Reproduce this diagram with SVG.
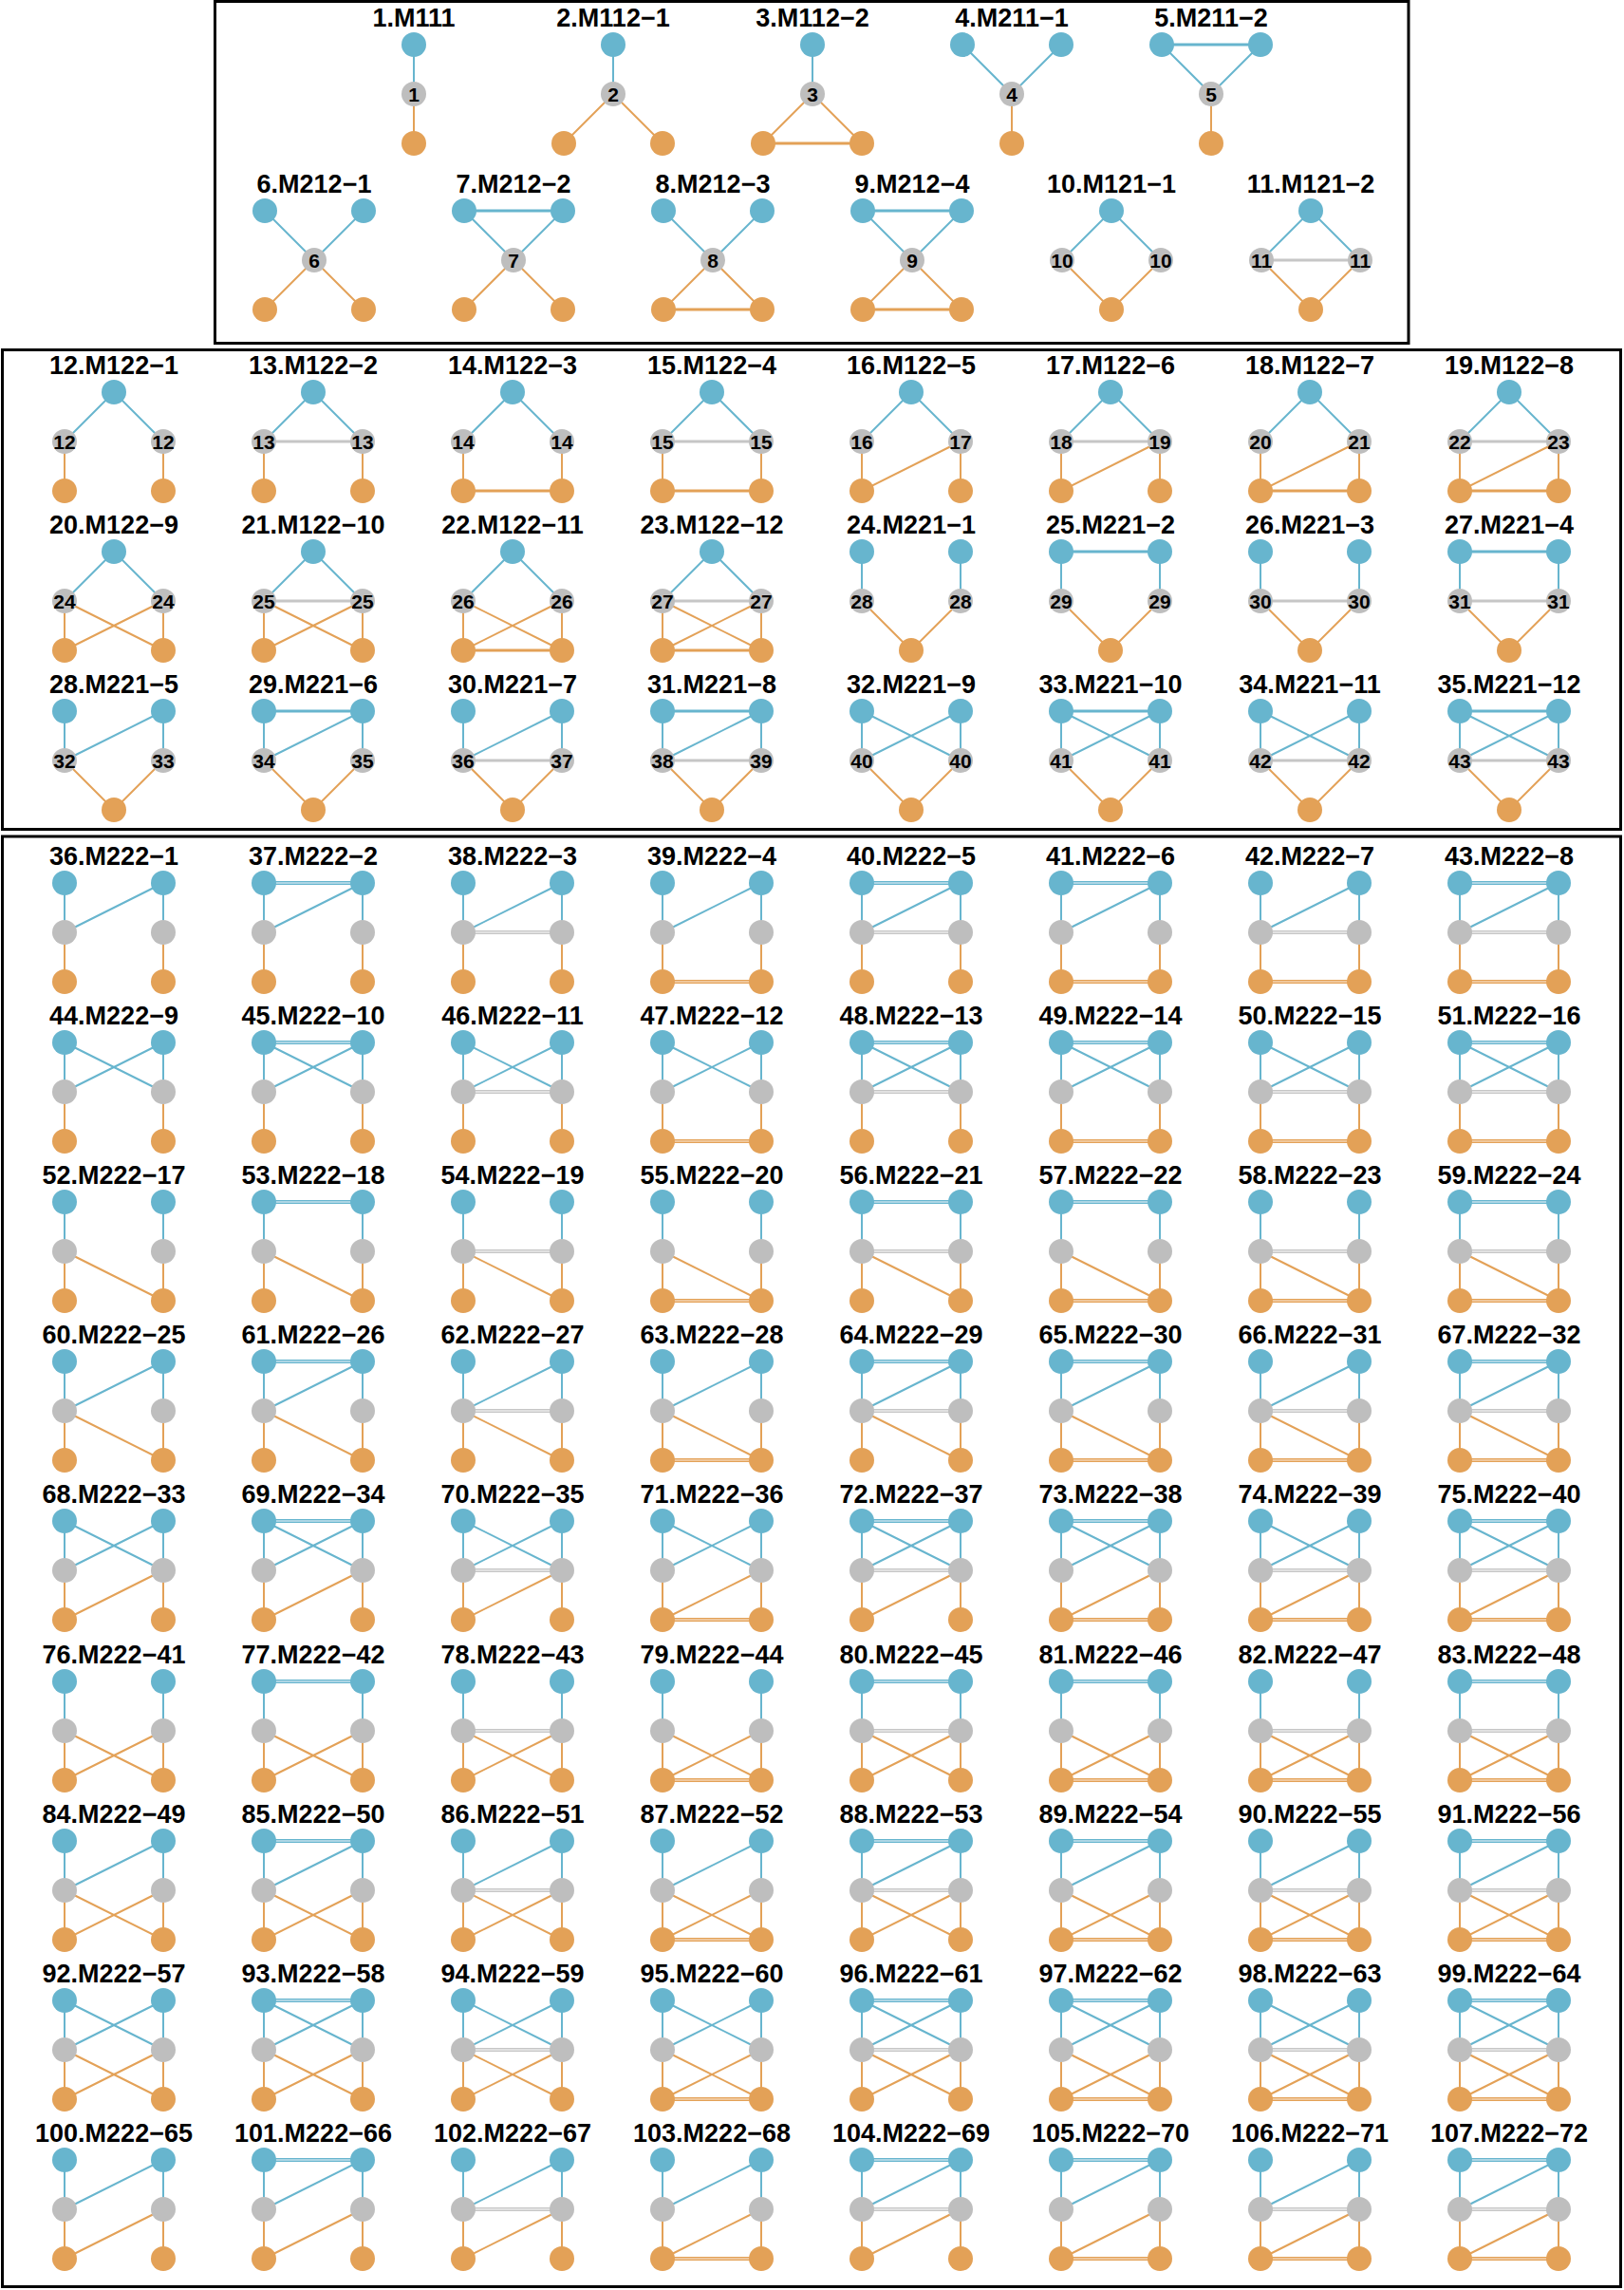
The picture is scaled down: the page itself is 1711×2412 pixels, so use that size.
<svg xmlns="http://www.w3.org/2000/svg" width="1711" height="2412" viewBox="0 0 1711 2412">
<style>
.t{font-family:"Liberation Sans",Arial,sans-serif;font-weight:bold;font-size:27px;text-anchor:middle;fill:#000}
.l{font-family:"Liberation Sans",Arial,sans-serif;font-weight:bold;font-size:21px;text-anchor:middle;fill:#000}
.nb{fill:#67B5CE}.ng{fill:#BEBEBE}.no{fill:#E3A157}
.eb{stroke:#67B5CE;stroke-width:2}.eg{stroke:#C6C6C6;stroke-width:3}.eo{stroke:#E3A157;stroke-width:2}
.eh{stroke-width:3}
.w{stroke-width:4}
.ib{stroke:#C4E2EC;stroke-width:1.3}.ig{stroke:#EAEAEA;stroke-width:1.3}.io{stroke:#F4D5B2;stroke-width:1.3}
.box{fill:none;stroke:#000;stroke-width:3}
</style>
<defs>
<g id="n222"><circle class="nb" cx="-52" cy="0" r="13"/><circle class="nb" cx="52" cy="0" r="13"/><circle class="ng" cx="-52" cy="52" r="13"/><circle class="ng" cx="52" cy="52" r="13"/><circle class="no" cx="-52" cy="104" r="13"/><circle class="no" cx="52" cy="104" r="13"/></g>
<g id="n122"><circle class="nb" cx="0" cy="0" r="13"/><circle class="ng" cx="-52" cy="52" r="13"/><circle class="ng" cx="52" cy="52" r="13"/><circle class="no" cx="-52" cy="104" r="13"/><circle class="no" cx="52" cy="104" r="13"/></g>
<g id="n221"><circle class="nb" cx="-52" cy="0" r="13"/><circle class="nb" cx="52" cy="0" r="13"/><circle class="ng" cx="-52" cy="52" r="13"/><circle class="ng" cx="52" cy="52" r="13"/><circle class="no" cx="0" cy="104" r="13"/></g>
<g id="n212"><circle class="nb" cx="-52" cy="0" r="13"/><circle class="nb" cx="52" cy="0" r="13"/><circle class="ng" cx="0" cy="52" r="13"/><circle class="no" cx="-52" cy="104" r="13"/><circle class="no" cx="52" cy="104" r="13"/></g>
<g id="b222"><line class="eb" x1="-52" y1="0" x2="-52" y2="52"/><line class="eb" x1="52" y1="0" x2="52" y2="52"/><line class="eo" x1="-52" y1="52" x2="-52" y2="104"/><line class="eo" x1="52" y1="52" x2="52" y2="104"/></g>
<g id="b122"><line class="eb" x1="0" y1="0" x2="-52" y2="52"/><line class="eb" x1="0" y1="0" x2="52" y2="52"/><line class="eo" x1="-52" y1="52" x2="-52" y2="104"/><line class="eo" x1="52" y1="52" x2="52" y2="104"/></g>
<g id="b221"><line class="eb" x1="-52" y1="0" x2="-52" y2="52"/><line class="eb" x1="52" y1="0" x2="52" y2="52"/><line class="eo" x1="-52" y1="52" x2="0" y2="104"/><line class="eo" x1="52" y1="52" x2="0" y2="104"/></g>
<g id="b212"><line class="eb" x1="-52" y1="0" x2="0" y2="52"/><line class="eb" x1="52" y1="0" x2="0" y2="52"/><line class="eo" x1="0" y1="52" x2="-52" y2="104"/><line class="eo" x1="0" y1="52" x2="52" y2="104"/></g>
<g id="b121"><line class="eb" x1="0" y1="0" x2="-52" y2="52"/><line class="eb" x1="0" y1="0" x2="52" y2="52"/><line class="eo" x1="-52" y1="52" x2="0" y2="104"/><line class="eo" x1="52" y1="52" x2="0" y2="104"/></g>
<line id="ea" class="eb eh" x1="-52" y1="0" x2="52" y2="0"/>
<line id="ed1" class="eb" x1="52" y1="0" x2="-52" y2="52"/>
<line id="ed2" class="eb" x1="-52" y1="0" x2="52" y2="52"/>
<line id="eg" class="eg" x1="-52" y1="52" x2="52" y2="52"/>
<line id="eo1" class="eo" x1="-52" y1="52" x2="52" y2="104"/>
<line id="eo2" class="eo" x1="52" y1="52" x2="-52" y2="104"/>
<line id="eb" class="eo eh" x1="-52" y1="104" x2="52" y2="104"/>
<g id="A"><line class="eb w" x1="-52" y1="0" x2="52" y2="0"/><line class="ib" x1="-40" y1="0" x2="40" y2="0"/></g>
<g id="G"><line class="eg w" x1="-52" y1="52" x2="52" y2="52"/><line class="ig" x1="-40" y1="52" x2="40" y2="52"/></g>
<g id="B"><line class="eo w" x1="-52" y1="104" x2="52" y2="104"/><line class="io" x1="-40" y1="104" x2="40" y2="104"/></g>
</defs>
<rect width="1711" height="2412" fill="#fff"/>
<g id="frames">
<rect class="box" x="226.5" y="1.5" width="1257.5" height="360"/>
<rect class="box" x="2.5" y="368.5" width="1705" height="505"/>
<rect class="box" x="2.5" y="881" width="1705" height="1527.5"/>
</g>
<g id="connectors">
<g transform="translate(436,47)"><line class="eb" x1="0" y1="0" x2="0" y2="52"/><line class="eo" x1="0" y1="52" x2="0" y2="104"/></g>
<g transform="translate(646,47)"><line class="eb" x1="0" y1="0" x2="0" y2="52"/><line class="eo" x1="0" y1="52" x2="-52" y2="104"/><line class="eo" x1="0" y1="52" x2="52" y2="104"/></g>
<g transform="translate(856,47)"><line class="eb" x1="0" y1="0" x2="0" y2="52"/><line class="eo" x1="0" y1="52" x2="-52" y2="104"/><line class="eo" x1="0" y1="52" x2="52" y2="104"/><use href="#eb"/></g>
<g transform="translate(1066,47)"><line class="eb" x1="-52" y1="0" x2="0" y2="52"/><line class="eb" x1="52" y1="0" x2="0" y2="52"/><line class="eo" x1="0" y1="52" x2="0" y2="104"/></g>
<g transform="translate(1276,47)"><line class="eb" x1="-52" y1="0" x2="0" y2="52"/><line class="eb" x1="52" y1="0" x2="0" y2="52"/><line class="eo" x1="0" y1="52" x2="0" y2="104"/><use href="#ea"/></g>
<g transform="translate(331,222)"><use href="#b212"/></g>
<g transform="translate(541,222)"><use href="#b212"/><use href="#ea"/></g>
<g transform="translate(751,222)"><use href="#b212"/><use href="#eb"/></g>
<g transform="translate(961,222)"><use href="#b212"/><use href="#ea"/><use href="#eb"/></g>
<g transform="translate(1171,222)"><use href="#b121"/></g>
<g transform="translate(1381,222)"><use href="#b121"/><use href="#eg"/></g>

<g transform="translate(120,413)"><use href="#b122"/></g>
<g transform="translate(330,413)"><use href="#b122"/><use href="#eg"/></g>
<g transform="translate(540,413)"><use href="#b122"/><use href="#eb"/></g>
<g transform="translate(750,413)"><use href="#b122"/><use href="#eg"/><use href="#eb"/></g>
<g transform="translate(960,413)"><use href="#b122"/><use href="#eo2"/></g>
<g transform="translate(1170,413)"><use href="#b122"/><use href="#eg"/><use href="#eo2"/></g>
<g transform="translate(1380,413)"><use href="#b122"/><use href="#eo2"/><use href="#eb"/></g>
<g transform="translate(1590,413)"><use href="#b122"/><use href="#eg"/><use href="#eo2"/><use href="#eb"/></g>
<g transform="translate(120,581)"><use href="#b122"/><use href="#eo1"/><use href="#eo2"/></g>
<g transform="translate(330,581)"><use href="#b122"/><use href="#eg"/><use href="#eo1"/><use href="#eo2"/></g>
<g transform="translate(540,581)"><use href="#b122"/><use href="#eo1"/><use href="#eo2"/><use href="#eb"/></g>
<g transform="translate(750,581)"><use href="#b122"/><use href="#eg"/><use href="#eo1"/><use href="#eo2"/><use href="#eb"/></g>
<g transform="translate(960,581)"><use href="#b221"/></g>
<g transform="translate(1170,581)"><use href="#b221"/><use href="#ea"/></g>
<g transform="translate(1380,581)"><use href="#b221"/><use href="#eg"/></g>
<g transform="translate(1590,581)"><use href="#b221"/><use href="#ea"/><use href="#eg"/></g>
<g transform="translate(120,749)"><use href="#b221"/><use href="#ed1"/></g>
<g transform="translate(330,749)"><use href="#b221"/><use href="#ea"/><use href="#ed1"/></g>
<g transform="translate(540,749)"><use href="#b221"/><use href="#ed1"/><use href="#eg"/></g>
<g transform="translate(750,749)"><use href="#b221"/><use href="#ea"/><use href="#ed1"/><use href="#eg"/></g>
<g transform="translate(960,749)"><use href="#b221"/><use href="#ed1"/><use href="#ed2"/></g>
<g transform="translate(1170,749)"><use href="#b221"/><use href="#ea"/><use href="#ed1"/><use href="#ed2"/></g>
<g transform="translate(1380,749)"><use href="#b221"/><use href="#ed1"/><use href="#ed2"/><use href="#eg"/></g>
<g transform="translate(1590,749)"><use href="#b221"/><use href="#ea"/><use href="#ed1"/><use href="#ed2"/><use href="#eg"/></g>

<g transform="translate(120,930)"><use href="#b222"/><use href="#ed1"/></g>
<g transform="translate(330,930)"><use href="#b222"/><use href="#ed1"/><use href="#A"/></g>
<g transform="translate(540,930)"><use href="#b222"/><use href="#ed1"/><use href="#G"/></g>
<g transform="translate(750,930)"><use href="#b222"/><use href="#ed1"/><use href="#B"/></g>
<g transform="translate(960,930)"><use href="#b222"/><use href="#ed1"/><use href="#A"/><use href="#G"/></g>
<g transform="translate(1170,930)"><use href="#b222"/><use href="#ed1"/><use href="#A"/><use href="#B"/></g>
<g transform="translate(1380,930)"><use href="#b222"/><use href="#ed1"/><use href="#G"/><use href="#B"/></g>
<g transform="translate(1590,930)"><use href="#b222"/><use href="#ed1"/><use href="#A"/><use href="#G"/><use href="#B"/></g>

<g transform="translate(120,1098)"><use href="#b222"/><use href="#ed1"/><use href="#ed2"/></g>
<g transform="translate(330,1098)"><use href="#b222"/><use href="#ed1"/><use href="#ed2"/><use href="#A"/></g>
<g transform="translate(540,1098)"><use href="#b222"/><use href="#ed1"/><use href="#ed2"/><use href="#G"/></g>
<g transform="translate(750,1098)"><use href="#b222"/><use href="#ed1"/><use href="#ed2"/><use href="#B"/></g>
<g transform="translate(960,1098)"><use href="#b222"/><use href="#ed1"/><use href="#ed2"/><use href="#A"/><use href="#G"/></g>
<g transform="translate(1170,1098)"><use href="#b222"/><use href="#ed1"/><use href="#ed2"/><use href="#A"/><use href="#B"/></g>
<g transform="translate(1380,1098)"><use href="#b222"/><use href="#ed1"/><use href="#ed2"/><use href="#G"/><use href="#B"/></g>
<g transform="translate(1590,1098)"><use href="#b222"/><use href="#ed1"/><use href="#ed2"/><use href="#A"/><use href="#G"/><use href="#B"/></g>

<g transform="translate(120,1266)"><use href="#b222"/><use href="#eo1"/></g>
<g transform="translate(330,1266)"><use href="#b222"/><use href="#eo1"/><use href="#A"/></g>
<g transform="translate(540,1266)"><use href="#b222"/><use href="#eo1"/><use href="#G"/></g>
<g transform="translate(750,1266)"><use href="#b222"/><use href="#eo1"/><use href="#B"/></g>
<g transform="translate(960,1266)"><use href="#b222"/><use href="#eo1"/><use href="#A"/><use href="#G"/></g>
<g transform="translate(1170,1266)"><use href="#b222"/><use href="#eo1"/><use href="#A"/><use href="#B"/></g>
<g transform="translate(1380,1266)"><use href="#b222"/><use href="#eo1"/><use href="#G"/><use href="#B"/></g>
<g transform="translate(1590,1266)"><use href="#b222"/><use href="#eo1"/><use href="#A"/><use href="#G"/><use href="#B"/></g>

<g transform="translate(120,1434)"><use href="#b222"/><use href="#ed1"/><use href="#eo1"/></g>
<g transform="translate(330,1434)"><use href="#b222"/><use href="#ed1"/><use href="#eo1"/><use href="#A"/></g>
<g transform="translate(540,1434)"><use href="#b222"/><use href="#ed1"/><use href="#eo1"/><use href="#G"/></g>
<g transform="translate(750,1434)"><use href="#b222"/><use href="#ed1"/><use href="#eo1"/><use href="#B"/></g>
<g transform="translate(960,1434)"><use href="#b222"/><use href="#ed1"/><use href="#eo1"/><use href="#A"/><use href="#G"/></g>
<g transform="translate(1170,1434)"><use href="#b222"/><use href="#ed1"/><use href="#eo1"/><use href="#A"/><use href="#B"/></g>
<g transform="translate(1380,1434)"><use href="#b222"/><use href="#ed1"/><use href="#eo1"/><use href="#G"/><use href="#B"/></g>
<g transform="translate(1590,1434)"><use href="#b222"/><use href="#ed1"/><use href="#eo1"/><use href="#A"/><use href="#G"/><use href="#B"/></g>

<g transform="translate(120,1602)"><use href="#b222"/><use href="#ed1"/><use href="#ed2"/><use href="#eo2"/></g>
<g transform="translate(330,1602)"><use href="#b222"/><use href="#ed1"/><use href="#ed2"/><use href="#eo2"/><use href="#A"/></g>
<g transform="translate(540,1602)"><use href="#b222"/><use href="#ed1"/><use href="#ed2"/><use href="#eo2"/><use href="#G"/></g>
<g transform="translate(750,1602)"><use href="#b222"/><use href="#ed1"/><use href="#ed2"/><use href="#eo2"/><use href="#B"/></g>
<g transform="translate(960,1602)"><use href="#b222"/><use href="#ed1"/><use href="#ed2"/><use href="#eo2"/><use href="#A"/><use href="#G"/></g>
<g transform="translate(1170,1602)"><use href="#b222"/><use href="#ed1"/><use href="#ed2"/><use href="#eo2"/><use href="#A"/><use href="#B"/></g>
<g transform="translate(1380,1602)"><use href="#b222"/><use href="#ed1"/><use href="#ed2"/><use href="#eo2"/><use href="#G"/><use href="#B"/></g>
<g transform="translate(1590,1602)"><use href="#b222"/><use href="#ed1"/><use href="#ed2"/><use href="#eo2"/><use href="#A"/><use href="#G"/><use href="#B"/></g>

<g transform="translate(120,1771)"><use href="#b222"/><use href="#eo1"/><use href="#eo2"/></g>
<g transform="translate(330,1771)"><use href="#b222"/><use href="#eo1"/><use href="#eo2"/><use href="#A"/></g>
<g transform="translate(540,1771)"><use href="#b222"/><use href="#eo1"/><use href="#eo2"/><use href="#G"/></g>
<g transform="translate(750,1771)"><use href="#b222"/><use href="#eo1"/><use href="#eo2"/><use href="#B"/></g>
<g transform="translate(960,1771)"><use href="#b222"/><use href="#eo1"/><use href="#eo2"/><use href="#A"/><use href="#G"/></g>
<g transform="translate(1170,1771)"><use href="#b222"/><use href="#eo1"/><use href="#eo2"/><use href="#A"/><use href="#B"/></g>
<g transform="translate(1380,1771)"><use href="#b222"/><use href="#eo1"/><use href="#eo2"/><use href="#G"/><use href="#B"/></g>
<g transform="translate(1590,1771)"><use href="#b222"/><use href="#eo1"/><use href="#eo2"/><use href="#A"/><use href="#G"/><use href="#B"/></g>

<g transform="translate(120,1939)"><use href="#b222"/><use href="#ed1"/><use href="#eo1"/><use href="#eo2"/></g>
<g transform="translate(330,1939)"><use href="#b222"/><use href="#ed1"/><use href="#eo1"/><use href="#eo2"/><use href="#A"/></g>
<g transform="translate(540,1939)"><use href="#b222"/><use href="#ed1"/><use href="#eo1"/><use href="#eo2"/><use href="#G"/></g>
<g transform="translate(750,1939)"><use href="#b222"/><use href="#ed1"/><use href="#eo1"/><use href="#eo2"/><use href="#B"/></g>
<g transform="translate(960,1939)"><use href="#b222"/><use href="#ed1"/><use href="#eo1"/><use href="#eo2"/><use href="#A"/><use href="#G"/></g>
<g transform="translate(1170,1939)"><use href="#b222"/><use href="#ed1"/><use href="#eo1"/><use href="#eo2"/><use href="#A"/><use href="#B"/></g>
<g transform="translate(1380,1939)"><use href="#b222"/><use href="#ed1"/><use href="#eo1"/><use href="#eo2"/><use href="#G"/><use href="#B"/></g>
<g transform="translate(1590,1939)"><use href="#b222"/><use href="#ed1"/><use href="#eo1"/><use href="#eo2"/><use href="#A"/><use href="#G"/><use href="#B"/></g>

<g transform="translate(120,2107)"><use href="#b222"/><use href="#ed1"/><use href="#ed2"/><use href="#eo1"/><use href="#eo2"/></g>
<g transform="translate(330,2107)"><use href="#b222"/><use href="#ed1"/><use href="#ed2"/><use href="#eo1"/><use href="#eo2"/><use href="#A"/></g>
<g transform="translate(540,2107)"><use href="#b222"/><use href="#ed1"/><use href="#ed2"/><use href="#eo1"/><use href="#eo2"/><use href="#G"/></g>
<g transform="translate(750,2107)"><use href="#b222"/><use href="#ed1"/><use href="#ed2"/><use href="#eo1"/><use href="#eo2"/><use href="#B"/></g>
<g transform="translate(960,2107)"><use href="#b222"/><use href="#ed1"/><use href="#ed2"/><use href="#eo1"/><use href="#eo2"/><use href="#A"/><use href="#G"/></g>
<g transform="translate(1170,2107)"><use href="#b222"/><use href="#ed1"/><use href="#ed2"/><use href="#eo1"/><use href="#eo2"/><use href="#A"/><use href="#B"/></g>
<g transform="translate(1380,2107)"><use href="#b222"/><use href="#ed1"/><use href="#ed2"/><use href="#eo1"/><use href="#eo2"/><use href="#G"/><use href="#B"/></g>
<g transform="translate(1590,2107)"><use href="#b222"/><use href="#ed1"/><use href="#ed2"/><use href="#eo1"/><use href="#eo2"/><use href="#A"/><use href="#G"/><use href="#B"/></g>

<g transform="translate(120,2275)"><use href="#b222"/><use href="#ed1"/><use href="#eo2"/></g>
<g transform="translate(330,2275)"><use href="#b222"/><use href="#ed1"/><use href="#eo2"/><use href="#A"/></g>
<g transform="translate(540,2275)"><use href="#b222"/><use href="#ed1"/><use href="#eo2"/><use href="#G"/></g>
<g transform="translate(750,2275)"><use href="#b222"/><use href="#ed1"/><use href="#eo2"/><use href="#B"/></g>
<g transform="translate(960,2275)"><use href="#b222"/><use href="#ed1"/><use href="#eo2"/><use href="#A"/><use href="#G"/></g>
<g transform="translate(1170,2275)"><use href="#b222"/><use href="#ed1"/><use href="#eo2"/><use href="#A"/><use href="#B"/></g>
<g transform="translate(1380,2275)"><use href="#b222"/><use href="#ed1"/><use href="#eo2"/><use href="#G"/><use href="#B"/></g>
<g transform="translate(1590,2275)"><use href="#b222"/><use href="#ed1"/><use href="#eo2"/><use href="#A"/><use href="#G"/><use href="#B"/></g>
</g>

<g id="nodes">
<g id="m1" transform="translate(436,47)"><text class="t" y="-19">1.M111</text><circle class="nb" cx="0" cy="0" r="13"/><circle class="ng" cx="0" cy="52" r="13"/><text class="l" y="59.5">1</text><circle class="no" cx="0" cy="104" r="13"/></g>
<g id="m2" transform="translate(646,47)"><text class="t" y="-19">2.M112−1</text><circle class="nb" cx="0" cy="0" r="13"/><circle class="ng" cx="0" cy="52" r="13"/><text class="l" y="59.5">2</text><circle class="no" cx="-52" cy="104" r="13"/><circle class="no" cx="52" cy="104" r="13"/></g>
<g id="m3" transform="translate(856,47)"><text class="t" y="-19">3.M112−2</text><circle class="nb" cx="0" cy="0" r="13"/><circle class="ng" cx="0" cy="52" r="13"/><text class="l" y="59.5">3</text><circle class="no" cx="-52" cy="104" r="13"/><circle class="no" cx="52" cy="104" r="13"/></g>
<g id="m4" transform="translate(1066,47)"><text class="t" y="-19">4.M211−1</text><circle class="nb" cx="-52" cy="0" r="13"/><circle class="nb" cx="52" cy="0" r="13"/><circle class="ng" cx="0" cy="52" r="13"/><text class="l" y="59.5">4</text><circle class="no" cx="0" cy="104" r="13"/></g>
<g id="m5" transform="translate(1276,47)"><text class="t" y="-19">5.M211−2</text><circle class="nb" cx="-52" cy="0" r="13"/><circle class="nb" cx="52" cy="0" r="13"/><circle class="ng" cx="0" cy="52" r="13"/><text class="l" y="59.5">5</text><circle class="no" cx="0" cy="104" r="13"/></g>
<g id="m6" transform="translate(331,222)"><text class="t" y="-19">6.M212−1</text><use href="#n212"/><text class="l" y="59.5">6</text></g>
<g id="m7" transform="translate(541,222)"><text class="t" y="-19">7.M212−2</text><use href="#n212"/><text class="l" y="59.5">7</text></g>
<g id="m8" transform="translate(751,222)"><text class="t" y="-19">8.M212−3</text><use href="#n212"/><text class="l" y="59.5">8</text></g>
<g id="m9" transform="translate(961,222)"><text class="t" y="-19">9.M212−4</text><use href="#n212"/><text class="l" y="59.5">9</text></g>
<g id="m10" transform="translate(1171,222)"><text class="t" y="-19">10.M121−1</text><circle class="nb" cx="0" cy="0" r="13"/><circle class="ng" cx="-52" cy="52" r="13"/><circle class="ng" cx="52" cy="52" r="13"/><circle class="no" cx="0" cy="104" r="13"/><text class="l" x="-52" y="59.5">10</text><text class="l" x="52" y="59.5">10</text></g>
<g id="m11" transform="translate(1381,222)"><text class="t" y="-19">11.M121−2</text><circle class="nb" cx="0" cy="0" r="13"/><circle class="ng" cx="-52" cy="52" r="13"/><circle class="ng" cx="52" cy="52" r="13"/><circle class="no" cx="0" cy="104" r="13"/><text class="l" x="-52" y="59.5">11</text><text class="l" x="52" y="59.5">11</text></g>

<g id="m12" transform="translate(120,413)"><text class="t" y="-19">12.M122−1</text><use href="#n122"/><text class="l" x="-52" y="59.5">12</text><text class="l" x="52" y="59.5">12</text></g>
<g id="m13" transform="translate(330,413)"><text class="t" y="-19">13.M122−2</text><use href="#n122"/><text class="l" x="-52" y="59.5">13</text><text class="l" x="52" y="59.5">13</text></g>
<g id="m14" transform="translate(540,413)"><text class="t" y="-19">14.M122−3</text><use href="#n122"/><text class="l" x="-52" y="59.5">14</text><text class="l" x="52" y="59.5">14</text></g>
<g id="m15" transform="translate(750,413)"><text class="t" y="-19">15.M122−4</text><use href="#n122"/><text class="l" x="-52" y="59.5">15</text><text class="l" x="52" y="59.5">15</text></g>
<g id="m16" transform="translate(960,413)"><text class="t" y="-19">16.M122−5</text><use href="#n122"/><text class="l" x="-52" y="59.5">16</text><text class="l" x="52" y="59.5">17</text></g>
<g id="m17" transform="translate(1170,413)"><text class="t" y="-19">17.M122−6</text><use href="#n122"/><text class="l" x="-52" y="59.5">18</text><text class="l" x="52" y="59.5">19</text></g>
<g id="m18" transform="translate(1380,413)"><text class="t" y="-19">18.M122−7</text><use href="#n122"/><text class="l" x="-52" y="59.5">20</text><text class="l" x="52" y="59.5">21</text></g>
<g id="m19" transform="translate(1590,413)"><text class="t" y="-19">19.M122−8</text><use href="#n122"/><text class="l" x="-52" y="59.5">22</text><text class="l" x="52" y="59.5">23</text></g>
<g id="m20" transform="translate(120,581)"><text class="t" y="-19">20.M122−9</text><use href="#n122"/><text class="l" x="-52" y="59.5">24</text><text class="l" x="52" y="59.5">24</text></g>
<g id="m21" transform="translate(330,581)"><text class="t" y="-19">21.M122−10</text><use href="#n122"/><text class="l" x="-52" y="59.5">25</text><text class="l" x="52" y="59.5">25</text></g>
<g id="m22" transform="translate(540,581)"><text class="t" y="-19">22.M122−11</text><use href="#n122"/><text class="l" x="-52" y="59.5">26</text><text class="l" x="52" y="59.5">26</text></g>
<g id="m23" transform="translate(750,581)"><text class="t" y="-19">23.M122−12</text><use href="#n122"/><text class="l" x="-52" y="59.5">27</text><text class="l" x="52" y="59.5">27</text></g>
<g id="m24" transform="translate(960,581)"><text class="t" y="-19">24.M221−1</text><use href="#n221"/><text class="l" x="-52" y="59.5">28</text><text class="l" x="52" y="59.5">28</text></g>
<g id="m25" transform="translate(1170,581)"><text class="t" y="-19">25.M221−2</text><use href="#n221"/><text class="l" x="-52" y="59.5">29</text><text class="l" x="52" y="59.5">29</text></g>
<g id="m26" transform="translate(1380,581)"><text class="t" y="-19">26.M221−3</text><use href="#n221"/><text class="l" x="-52" y="59.5">30</text><text class="l" x="52" y="59.5">30</text></g>
<g id="m27" transform="translate(1590,581)"><text class="t" y="-19">27.M221−4</text><use href="#n221"/><text class="l" x="-52" y="59.5">31</text><text class="l" x="52" y="59.5">31</text></g>
<g id="m28" transform="translate(120,749)"><text class="t" y="-19">28.M221−5</text><use href="#n221"/><text class="l" x="-52" y="59.5">32</text><text class="l" x="52" y="59.5">33</text></g>
<g id="m29" transform="translate(330,749)"><text class="t" y="-19">29.M221−6</text><use href="#n221"/><text class="l" x="-52" y="59.5">34</text><text class="l" x="52" y="59.5">35</text></g>
<g id="m30" transform="translate(540,749)"><text class="t" y="-19">30.M221−7</text><use href="#n221"/><text class="l" x="-52" y="59.5">36</text><text class="l" x="52" y="59.5">37</text></g>
<g id="m31" transform="translate(750,749)"><text class="t" y="-19">31.M221−8</text><use href="#n221"/><text class="l" x="-52" y="59.5">38</text><text class="l" x="52" y="59.5">39</text></g>
<g id="m32" transform="translate(960,749)"><text class="t" y="-19">32.M221−9</text><use href="#n221"/><text class="l" x="-52" y="59.5">40</text><text class="l" x="52" y="59.5">40</text></g>
<g id="m33" transform="translate(1170,749)"><text class="t" y="-19">33.M221−10</text><use href="#n221"/><text class="l" x="-52" y="59.5">41</text><text class="l" x="52" y="59.5">41</text></g>
<g id="m34" transform="translate(1380,749)"><text class="t" y="-19">34.M221−11</text><use href="#n221"/><text class="l" x="-52" y="59.5">42</text><text class="l" x="52" y="59.5">42</text></g>
<g id="m35" transform="translate(1590,749)"><text class="t" y="-19">35.M221−12</text><use href="#n221"/><text class="l" x="-52" y="59.5">43</text><text class="l" x="52" y="59.5">43</text></g>

<g id="m36" transform="translate(120,930)"><text class="t" y="-19">36.M222−1</text><use href="#n222"/></g>
<g id="m37" transform="translate(330,930)"><text class="t" y="-19">37.M222−2</text><use href="#n222"/></g>
<g id="m38" transform="translate(540,930)"><text class="t" y="-19">38.M222−3</text><use href="#n222"/></g>
<g id="m39" transform="translate(750,930)"><text class="t" y="-19">39.M222−4</text><use href="#n222"/></g>
<g id="m40" transform="translate(960,930)"><text class="t" y="-19">40.M222−5</text><use href="#n222"/></g>
<g id="m41" transform="translate(1170,930)"><text class="t" y="-19">41.M222−6</text><use href="#n222"/></g>
<g id="m42" transform="translate(1380,930)"><text class="t" y="-19">42.M222−7</text><use href="#n222"/></g>
<g id="m43" transform="translate(1590,930)"><text class="t" y="-19">43.M222−8</text><use href="#n222"/></g>
<g id="m44" transform="translate(120,1098)"><text class="t" y="-19">44.M222−9</text><use href="#n222"/></g>
<g id="m45" transform="translate(330,1098)"><text class="t" y="-19">45.M222−10</text><use href="#n222"/></g>
<g id="m46" transform="translate(540,1098)"><text class="t" y="-19">46.M222−11</text><use href="#n222"/></g>
<g id="m47" transform="translate(750,1098)"><text class="t" y="-19">47.M222−12</text><use href="#n222"/></g>
<g id="m48" transform="translate(960,1098)"><text class="t" y="-19">48.M222−13</text><use href="#n222"/></g>
<g id="m49" transform="translate(1170,1098)"><text class="t" y="-19">49.M222−14</text><use href="#n222"/></g>
<g id="m50" transform="translate(1380,1098)"><text class="t" y="-19">50.M222−15</text><use href="#n222"/></g>
<g id="m51" transform="translate(1590,1098)"><text class="t" y="-19">51.M222−16</text><use href="#n222"/></g>
<g id="m52" transform="translate(120,1266)"><text class="t" y="-19">52.M222−17</text><use href="#n222"/></g>
<g id="m53" transform="translate(330,1266)"><text class="t" y="-19">53.M222−18</text><use href="#n222"/></g>
<g id="m54" transform="translate(540,1266)"><text class="t" y="-19">54.M222−19</text><use href="#n222"/></g>
<g id="m55" transform="translate(750,1266)"><text class="t" y="-19">55.M222−20</text><use href="#n222"/></g>
<g id="m56" transform="translate(960,1266)"><text class="t" y="-19">56.M222−21</text><use href="#n222"/></g>
<g id="m57" transform="translate(1170,1266)"><text class="t" y="-19">57.M222−22</text><use href="#n222"/></g>
<g id="m58" transform="translate(1380,1266)"><text class="t" y="-19">58.M222−23</text><use href="#n222"/></g>
<g id="m59" transform="translate(1590,1266)"><text class="t" y="-19">59.M222−24</text><use href="#n222"/></g>
<g id="m60" transform="translate(120,1434)"><text class="t" y="-19">60.M222−25</text><use href="#n222"/></g>
<g id="m61" transform="translate(330,1434)"><text class="t" y="-19">61.M222−26</text><use href="#n222"/></g>
<g id="m62" transform="translate(540,1434)"><text class="t" y="-19">62.M222−27</text><use href="#n222"/></g>
<g id="m63" transform="translate(750,1434)"><text class="t" y="-19">63.M222−28</text><use href="#n222"/></g>
<g id="m64" transform="translate(960,1434)"><text class="t" y="-19">64.M222−29</text><use href="#n222"/></g>
<g id="m65" transform="translate(1170,1434)"><text class="t" y="-19">65.M222−30</text><use href="#n222"/></g>
<g id="m66" transform="translate(1380,1434)"><text class="t" y="-19">66.M222−31</text><use href="#n222"/></g>
<g id="m67" transform="translate(1590,1434)"><text class="t" y="-19">67.M222−32</text><use href="#n222"/></g>
<g id="m68" transform="translate(120,1602)"><text class="t" y="-19">68.M222−33</text><use href="#n222"/></g>
<g id="m69" transform="translate(330,1602)"><text class="t" y="-19">69.M222−34</text><use href="#n222"/></g>
<g id="m70" transform="translate(540,1602)"><text class="t" y="-19">70.M222−35</text><use href="#n222"/></g>
<g id="m71" transform="translate(750,1602)"><text class="t" y="-19">71.M222−36</text><use href="#n222"/></g>
<g id="m72" transform="translate(960,1602)"><text class="t" y="-19">72.M222−37</text><use href="#n222"/></g>
<g id="m73" transform="translate(1170,1602)"><text class="t" y="-19">73.M222−38</text><use href="#n222"/></g>
<g id="m74" transform="translate(1380,1602)"><text class="t" y="-19">74.M222−39</text><use href="#n222"/></g>
<g id="m75" transform="translate(1590,1602)"><text class="t" y="-19">75.M222−40</text><use href="#n222"/></g>
<g id="m76" transform="translate(120,1771)"><text class="t" y="-19">76.M222−41</text><use href="#n222"/></g>
<g id="m77" transform="translate(330,1771)"><text class="t" y="-19">77.M222−42</text><use href="#n222"/></g>
<g id="m78" transform="translate(540,1771)"><text class="t" y="-19">78.M222−43</text><use href="#n222"/></g>
<g id="m79" transform="translate(750,1771)"><text class="t" y="-19">79.M222−44</text><use href="#n222"/></g>
<g id="m80" transform="translate(960,1771)"><text class="t" y="-19">80.M222−45</text><use href="#n222"/></g>
<g id="m81" transform="translate(1170,1771)"><text class="t" y="-19">81.M222−46</text><use href="#n222"/></g>
<g id="m82" transform="translate(1380,1771)"><text class="t" y="-19">82.M222−47</text><use href="#n222"/></g>
<g id="m83" transform="translate(1590,1771)"><text class="t" y="-19">83.M222−48</text><use href="#n222"/></g>
<g id="m84" transform="translate(120,1939)"><text class="t" y="-19">84.M222−49</text><use href="#n222"/></g>
<g id="m85" transform="translate(330,1939)"><text class="t" y="-19">85.M222−50</text><use href="#n222"/></g>
<g id="m86" transform="translate(540,1939)"><text class="t" y="-19">86.M222−51</text><use href="#n222"/></g>
<g id="m87" transform="translate(750,1939)"><text class="t" y="-19">87.M222−52</text><use href="#n222"/></g>
<g id="m88" transform="translate(960,1939)"><text class="t" y="-19">88.M222−53</text><use href="#n222"/></g>
<g id="m89" transform="translate(1170,1939)"><text class="t" y="-19">89.M222−54</text><use href="#n222"/></g>
<g id="m90" transform="translate(1380,1939)"><text class="t" y="-19">90.M222−55</text><use href="#n222"/></g>
<g id="m91" transform="translate(1590,1939)"><text class="t" y="-19">91.M222−56</text><use href="#n222"/></g>
<g id="m92" transform="translate(120,2107)"><text class="t" y="-19">92.M222−57</text><use href="#n222"/></g>
<g id="m93" transform="translate(330,2107)"><text class="t" y="-19">93.M222−58</text><use href="#n222"/></g>
<g id="m94" transform="translate(540,2107)"><text class="t" y="-19">94.M222−59</text><use href="#n222"/></g>
<g id="m95" transform="translate(750,2107)"><text class="t" y="-19">95.M222−60</text><use href="#n222"/></g>
<g id="m96" transform="translate(960,2107)"><text class="t" y="-19">96.M222−61</text><use href="#n222"/></g>
<g id="m97" transform="translate(1170,2107)"><text class="t" y="-19">97.M222−62</text><use href="#n222"/></g>
<g id="m98" transform="translate(1380,2107)"><text class="t" y="-19">98.M222−63</text><use href="#n222"/></g>
<g id="m99" transform="translate(1590,2107)"><text class="t" y="-19">99.M222−64</text><use href="#n222"/></g>
<g id="m100" transform="translate(120,2275)"><text class="t" y="-19">100.M222−65</text><use href="#n222"/></g>
<g id="m101" transform="translate(330,2275)"><text class="t" y="-19">101.M222−66</text><use href="#n222"/></g>
<g id="m102" transform="translate(540,2275)"><text class="t" y="-19">102.M222−67</text><use href="#n222"/></g>
<g id="m103" transform="translate(750,2275)"><text class="t" y="-19">103.M222−68</text><use href="#n222"/></g>
<g id="m104" transform="translate(960,2275)"><text class="t" y="-19">104.M222−69</text><use href="#n222"/></g>
<g id="m105" transform="translate(1170,2275)"><text class="t" y="-19">105.M222−70</text><use href="#n222"/></g>
<g id="m106" transform="translate(1380,2275)"><text class="t" y="-19">106.M222−71</text><use href="#n222"/></g>
<g id="m107" transform="translate(1590,2275)"><text class="t" y="-19">107.M222−72</text><use href="#n222"/></g>
</g>
</svg>
